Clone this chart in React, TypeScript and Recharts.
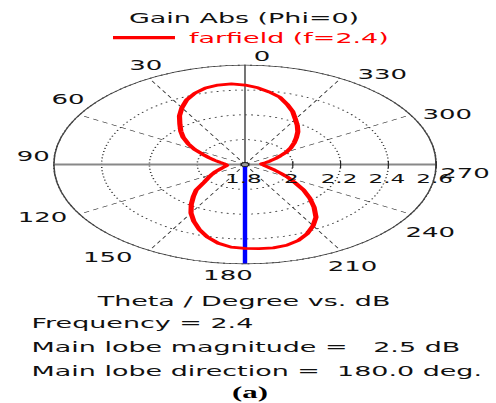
import React from 'react';
import { RadarChart, Radar, PolarGrid, PolarAngleAxis, PolarRadiusAxis } from 'recharts';

// Theta in degrees: 0 at the top, counter-clockwise (CST far-field cut, Phi=0)
const theta = [
  0, 5, 10, 15, 20, 25, 30, 35, 40, 45, 50, 55, 60, 65, 70, 75, 80, 85,
  90, 95, 100, 105, 110, 115, 120, 125, 130, 135, 140, 145, 150, 155, 160, 165, 170, 175,
  180, 185, 190, 195, 200, 205, 210, 215, 220, 225, 230, 235, 240, 245, 250, 255, 260, 265,
  270, 275, 280, 285, 290, 295, 300, 305, 310, 315, 320, 325, 330, 335, 340, 345, 350, 355,
];

// gain (dB)
const gainDb = [
  2.452, 2.45, 2.438, 2.412, 2.376, 2.328, 2.278, 2.224, 2.18, 2.137, 2.09, 2.044, 1.996, 1.96, 1.932, 1.908, 1.89, 1.88,
  1.877, 1.884, 1.896, 1.912, 1.936, 1.96, 1.988, 2.024, 2.088, 2.136, 2.192, 2.252, 2.306, 2.358, 2.406, 2.444, 2.468, 2.476,
  2.48, 2.482, 2.474, 2.452, 2.416, 2.37, 2.318, 2.25, 2.184, 2.12, 2.056, 2.008, 1.964, 1.932, 1.908, 1.892, 1.88, 1.872,
  1.87, 1.888, 1.908, 1.934, 1.962, 2.0, 2.034, 2.068, 2.104, 2.144, 2.182, 2.222, 2.272, 2.316, 2.362, 2.392, 2.42, 2.44,
];

const radialTicks = [1.8, 2, 2.2, 2.4, 2.6];
const angleLabels = [0, 30, 60, 90, 120, 150, 180, 210, 240, 270, 300, 330];
const axisAngles = [0, 90, 180, 270];
const mainLobeDirection = 180;

const title = 'Gain Abs (Phi=0)';
const seriesName = 'farfield (f=2.4)';
const xTitle = 'Theta / Degree vs. dB';
const infoLines = ['Frequency = 2.4', 'Main lobe magnitude =   2.5 dB', 'Main lobe direction =  180.0 deg.'];
const caption = '(a)';

const data = theta.map((t, i) => ({ theta: t, gain: gainDb[i] }));

// the original picture is stretched sideways, so the whole thing is drawn narrow and scaled in x
const SX = 1.925;
const W = 496 / SX;
const CX = 245 / SX;
const CY = 164.5;
const R = 99.3;
const RED = '#f00';

// theta -> recharts polar angle (90 = up, counter-clockwise)
const toAngle = (t: number) => 90 + t;

const AngleTick = (props: any) => {
  const { x, y, payload } = props;
  const t = Number(payload.value);
  if (t % 30 !== 0) return <g />;
  const rad = (t * Math.PI) / 180;
  const s = -Math.sin(rad);
  const c = Math.cos(rad);
  let anchor: 'start' | 'middle' | 'end' = 'middle';
  if (s > 0.01) anchor = 'start';
  else if (s < -0.01) anchor = 'end';
  let dy = 5;
  if (c > 0.01) dy = -2;
  else if (c < -0.01) dy = 14;
  return (
    <text x={x} y={y + dy} textAnchor={anchor} fontSize={13.5} fill="#111">
      {t}
    </text>
  );
};

const RadiusTick = (props: any) => {
  const { x, y, payload } = props;
  const v = Number(payload.value);
  if (!radialTicks.includes(v)) return <g />;
  return (
    <g>
      {v === radialTicks[0] ? (
        <circle cx={x} cy={y} r={2} fill="#999" stroke="#222" strokeWidth={0.8} />
      ) : (
        <line x1={x} x2={x} y1={y - 3.5} y2={y + 3.5} stroke="#222" strokeWidth={0.6} />
      )}
      <text x={x - 0.8} y={y + 19} textAnchor="middle" fontSize={12} fill="#111">
        {String(v)}
      </text>
    </g>
  );
};

export default function App() {
  return (
    <div style={{ position: 'absolute', left: 0, top: 0, width: 496, height: 403, overflow: 'hidden', background: '#fff' }}>
      <div
        style={{
          position: 'absolute',
          left: 0,
          top: 0,
          width: W,
          height: 403,
          transform: `scaleX(${SX})`,
          transformOrigin: '0 0',
          fontFamily: '"DejaVu Sans", Verdana, sans-serif',
        }}
      >
        <div style={{ position: 'absolute', left: 0, top: 0 }}>
          <RadarChart
            width={W}
            height={300}
            data={data}
            cx={CX}
            cy={CY}
            outerRadius={R}
            startAngle={90}
            endAngle={450}
            margin={{ top: 0, right: 0, bottom: 0, left: 0 }}
          >
            {/* dotted rings */}
            <PolarGrid gridType="circle" polarAngles={[]} stroke="#333" strokeWidth={0.8} strokeDasharray="1 2.2" />
            {/* dashed spokes every 30 deg */}
            <PolarGrid
              gridType="circle"
              polarRadius={[]}
              polarAngles={angleLabels.filter((t) => t % 90 !== 0).map(toAngle)}
              stroke="#333"
              strokeWidth={0.6}
              strokeDasharray="3 2.5"
            />
            {/* main axes */}
            <PolarGrid gridType="circle" polarRadius={[]} polarAngles={axisAngles.filter((t) => t % 180 === 0).map(toAngle)} stroke="#333" strokeWidth={0.7} />
            <PolarGrid gridType="circle" polarRadius={[]} polarAngles={axisAngles.filter((t) => t % 180 !== 0).map(toAngle)} stroke="#888" strokeWidth={2} />
            <PolarAngleAxis
              dataKey="theta"
              tick={AngleTick}
              tickLine={false}
              tickSize={2.5}
              axisLineType="circle"
              axisLine={{ stroke: '#444', strokeWidth: 0.8 }}
            />
            {/* allowDecimals, otherwise the domain gets rounded out to 3 */}
            <PolarRadiusAxis
              type="number"
              angle={0}
              domain={[1.8, 2.6]}
              allowDecimals
              allowDataOverflow
              ticks={radialTicks}
              tickCount={5}
              axisLine={false}
              tick={RadiusTick}
            />
            <Radar
              dataKey="gain"
              name={seriesName}
              stroke={RED}
              strokeWidth={2.7}
              strokeLinejoin="round"
              fill="none"
              fillOpacity={0}
              dot={false}
              isAnimationActive={false}
            />
            {/* main lobe direction marker */}
            <PolarGrid gridType="circle" polarRadius={[]} polarAngles={[toAngle(mainLobeDirection)]} stroke="#00f" strokeWidth={2.3} />
          </RadarChart>
        </div>
        <svg width={W} height={403} style={{ position: 'absolute', left: 0, top: 0, overflow: 'visible' }}>
          <text x={CX - 0.5} y={23} textAnchor="middle" fontSize={14} fill="#111">
            {title}
          </text>
          <line x1={58.7} x2={90.9} y1={37.7} y2={37.7} stroke={RED} strokeWidth={3.3} />
          <text x={98.2} y={42.7} fontSize={14} fill={RED}>
            {seriesName}
          </text>
          <text x={CX - 0.5} y={306} textAnchor="middle" fontSize={14} fill="#111">
            {xTitle}
          </text>
          {infoLines.map((s, i) => (
            <text key={s} x={16.4} y={328 + i * 24} fontSize={14} fill="#111" style={{ whiteSpace: 'pre' }}>
              {s}
            </text>
          ))}
          <text
            x={250 / SX}
            y={398}
            textAnchor="middle"
            fontSize={16}
            fontWeight="bold"
            fill="#000"
            style={{ fontFamily: '"Liberation Serif", "Times New Roman", serif' }}
          >
            {caption}
          </text>
        </svg>
      </div>
    </div>
  );
}
